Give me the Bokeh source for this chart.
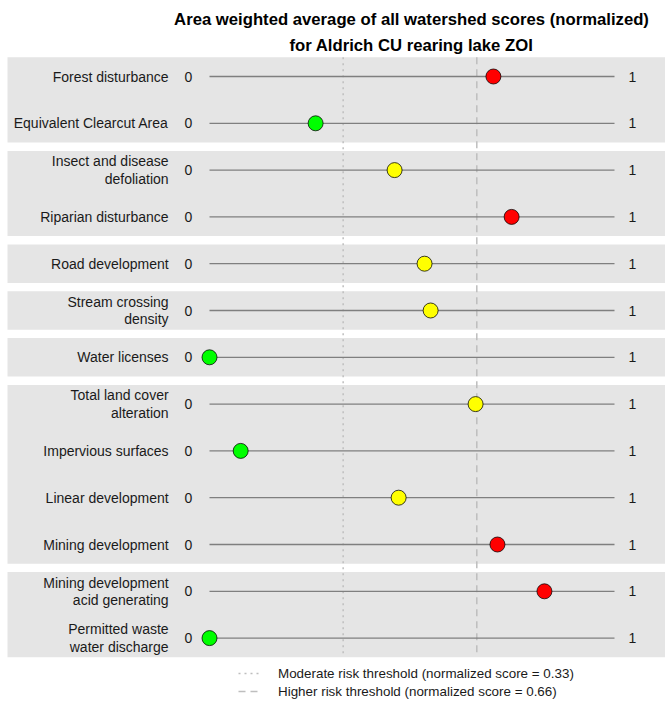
from bokeh.plotting import figure
from bokeh.models import ColumnDataSource, Range1d, Legend, LegendItem, Label
from bokeh.core.properties import value
from bokeh.embed import file_html
from bokeh.resources import INLINE

# ---------------- data ----------------
indicators = [
    "Forest disturbance",
    "Equivalent Clearcut Area",
    "Insect and disease\ndefoliation",
    "Riparian disturbance",
    "Road development",
    "Stream crossing\ndensity",
    "Water licenses",
    "Total land cover\nalteration",
    "Impervious surfaces",
    "Linear development",
    "Mining development",
    "Mining development\nacid generating",
    "Permitted waste\nwater discharge",
]
scores = [0.701, 0.262, 0.457, 0.746, 0.531, 0.546, 0.0, 0.657, 0.077, 0.467, 0.711, 0.827, 0.0]
groups = [1, 1, 2, 2, 3, 4, 5, 6, 6, 6, 6, 7, 7]
moderate_threshold = 0.33
higher_threshold = 0.66
title_lines = ["Area weighted average of all watershed scores (normalized)",
               "for Aldrich CU rearing lake ZOI"]

# ---------------- layout ----------------
W, H = 665, 702
px_per_unit = 405.0
x0_px = 209.0          # canvas px of score 0
row_px = 46.8
row0_px = 76.0         # canvas px of first row

x_start = -x0_px / px_per_unit
x_end = (W - x0_px) / px_per_unit
y_top = row0_px / row_px
y_bot = -(H - row0_px) / row_px

FONT = "Liberation Sans"

def color_for(s):
    if s < moderate_threshold:
        return "#00FF00"
    if s < higher_threshold:
        return "#FFFF00"
    return "#FF0000"

ys = [-i for i in range(len(indicators))]

p = figure(width=W, height=H, output_backend="svg", toolbar_location=None,
           x_range=Range1d(x_start, x_end), y_range=Range1d(y_bot, y_top),
           min_border=0, min_border_left=0, min_border_right=0,
           min_border_top=0, min_border_bottom=0)
p.axis.visible = False
p.xgrid.visible = False
p.ygrid.visible = False
p.outline_line_color = None
p.background_fill_color = "white"
p.border_fill_color = "white"

# grey bands per group
half = 0.41
band_top, band_bot = [], []
for g in sorted(set(groups)):
    idx = [i for i, gg in enumerate(groups) if gg == g]
    band_top.append(ys[idx[0]] + half)
    band_bot.append(ys[idx[-1]] - half)
band_left = x_start + 7.0 / px_per_unit
p.quad(left=band_left, right=x_end + 1, top=band_top, bottom=band_bot,
       fill_color="#E5E5E5", line_color=None)

# threshold lines
t_top = max(band_top)
t_bot = min(band_bot)
r_mod = p.segment(x0=[moderate_threshold], x1=[moderate_threshold], y0=[t_top], y1=[t_bot],
                  line_color="#BEBEBE", line_width=1.5, line_dash="2 4")
r_high = p.segment(x0=[higher_threshold], x1=[higher_threshold], y0=[t_top], y1=[t_bot],
                   line_color="#BEBEBE", line_width=1.5, line_dash="7 5")

src = ColumnDataSource(dict(
    y=ys, score=scores, label=indicators,
    x0=[0.0] * len(ys), x1=[1.0] * len(ys),
    color=[color_for(s) for s in scores],
    lab_x=[-0.101] * len(ys), zero_x=[-0.052] * len(ys), one_x=[1.044] * len(ys),
    zero=["0"] * len(ys), one=["1"] * len(ys),
))

p.segment(x0="x0", x1="x1", y0="y", y1="y", source=src, line_color="#7F7F7F", line_width=1.3)
p.scatter(x="score", y="y", source=src, size=15, fill_color="color",
          line_color="black", line_alpha=0.75, line_width=1)

p.text(x="lab_x", y="y", text="label", source=src, text_align="right",
       text_baseline="middle", text_font=value(FONT), text_font_size="14px",
       text_color="#1A1A1A", text_line_height=1.1)
p.text(x="zero_x", y="y", text="zero", source=src, text_align="center",
       text_baseline="middle", text_font=value(FONT), text_font_size="14px",
       text_color="#1A1A1A")
p.text(x="one_x", y="y", text="one", source=src, text_align="center",
       text_baseline="middle", text_font=value(FONT), text_font_size="14px",
       text_color="#1A1A1A")

# title
for k, line in enumerate(title_lines):
    p.add_layout(Label(x=411, y=H - 19 - 26 * k, x_units="screen", y_units="screen",
                       text=line, text_align="center", text_baseline="middle",
                       text_font=FONT, text_font_size="16.7px", text_font_style="bold",
                       text_color="black"))

legend = Legend(items=[
    LegendItem(label="Moderate risk threshold (normalized score = 0.33)", renderers=[r_mod]),
    LegendItem(label="Higher risk threshold (normalized score = 0.66)", renderers=[r_high]),
], location=(238, 2), orientation="vertical", background_fill_alpha=0,
   border_line_color=None, margin=0, padding=0, spacing=0,
   glyph_width=24, glyph_height=18, label_standoff=16,
   label_text_font=FONT, label_text_font_size="13.4px", label_text_color="#1A1A1A",
   label_height=18)
p.add_layout(legend)

open("out.html", "w").write(file_html(p, INLINE))
